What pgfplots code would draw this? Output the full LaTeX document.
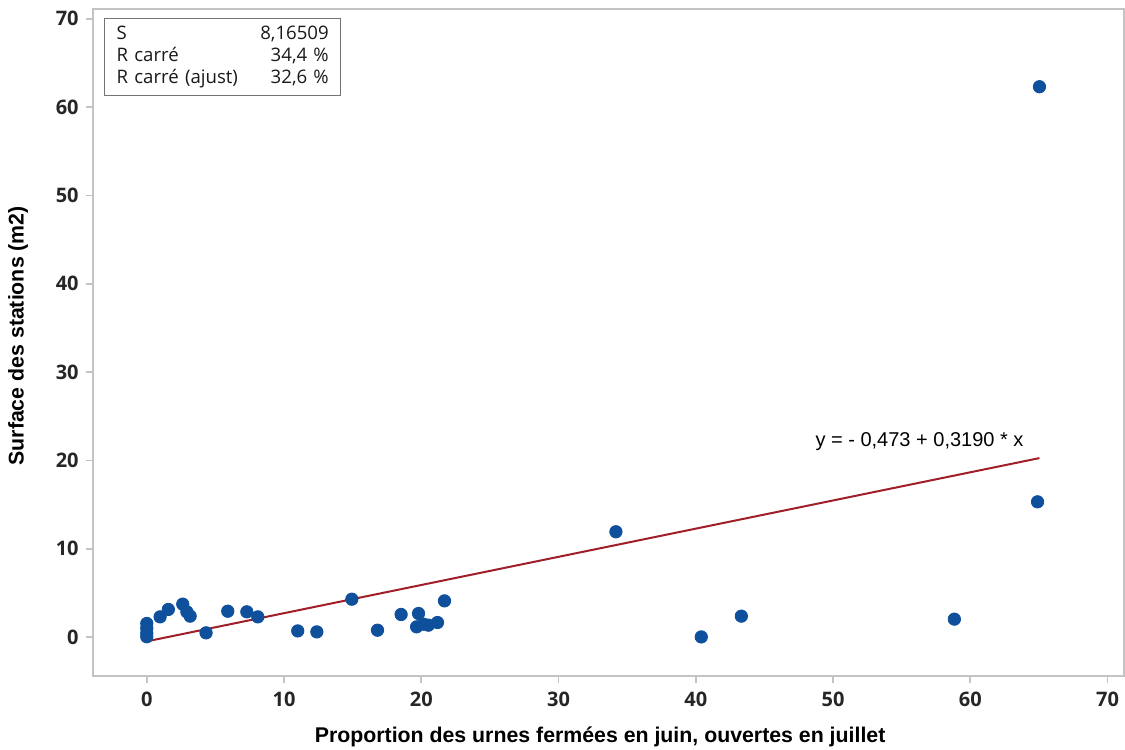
\documentclass[border=0pt]{standalone}
\usepackage{pgfplots}
\pgfplotsset{compat=1.18}
\usepackage{fontspec}
\setmainfont{Open Sans}
\newfontfamily\arialfont{Liberation Sans}
\definecolor{ptblue}{RGB}{14,80,155}
\definecolor{fitred}{RGB}{160,30,40}
\definecolor{axgray}{RGB}{195,195,195}
\begin{document}
\begin{tikzpicture}
\begin{axis}[
  scale only axis,
  width=515.6pt, height=333.5pt,
  xmin=-3.94, xmax=71.2,
  ymin=-4.4, ymax=71.1,
  xtick={0,10,...,70}, ytick={0,10,...,70},
  axis line style={axgray, line width=0.8pt},
  tick style={axgray, line width=0.8pt},
  tick align=outside, major tick length=3.5pt,
  xtick pos=bottom, ytick pos=left,
  /pgf/number format/assume math mode=true,
  ticklabel style={font=\fontsize{10}{12}\selectfont\bfseries, text=black!85},
  xticklabel style={yshift=-1pt},
  label style={font=\arialfont\fontsize{10.65}{13}\selectfont\bfseries},
  xlabel={Proportion des urnes fermées en juin, ouvertes en juillet},
  ylabel={Surface des stations (m2)},
  xlabel style={at={(axis description cs:0.492,-0.0915)}, anchor=center},
  ylabel style={at={(axis description cs:-0.0724,0.51)}, anchor=center},
  clip=false,
]
\addplot[fitred, line width=1pt] coordinates {(0,-0.473) (65.04,20.27)};
\addplot[only marks, mark=*, mark size=3.1pt, color=ptblue, mark options={fill=ptblue, draw=ptblue}] coordinates {
(0,1.55) (0,1.0) (0,0.45) (0,0.05)
(0.97,2.3) (1.57,3.14) (2.62,3.74) (2.92,2.87) (3.16,2.38)
(4.32,0.49) (5.9,2.94) (7.29,2.87) (8.09,2.3)
(11.0,0.71) (12.39,0.6) (14.94,4.3) (16.81,0.79)
(18.53,2.57) (19.8,2.68) (19.66,1.17) (20.16,1.47) (20.52,1.36) (21.18,1.66) (21.69,4.11)
(34.18,11.93) (40.4,0.03) (43.32,2.38) (58.84,2.04) (64.9,15.32) (65.04,62.3)
};
\node[font=\arialfont\fontsize{10}{12}\selectfont, anchor=center] at (axis cs:56.3,22.1) {y = - 0,473 + 0,3190 * x};
\node[draw=black!55, line width=0.6pt, anchor=north west, text width=106pt, inner xsep=6pt, inner ysep=3.5pt, align=left,
  font=\fontsize{9.3}{11.2}\selectfont, text=black!90] at (axis cs:-3.11,70.07)
  {S\hfill 8,16509\\R carré\hfill 34,4 \%\\R carré (ajust)\hfill 32,6 \%};
\end{axis}
\pgfresetboundingbox
\useasboundingbox ([shift={(-46.35pt,-36.5pt)}]current axis.south west) rectangle ([shift={(0.5pt,4.5pt)}]current axis.north east);
\end{tikzpicture}
\end{document}
